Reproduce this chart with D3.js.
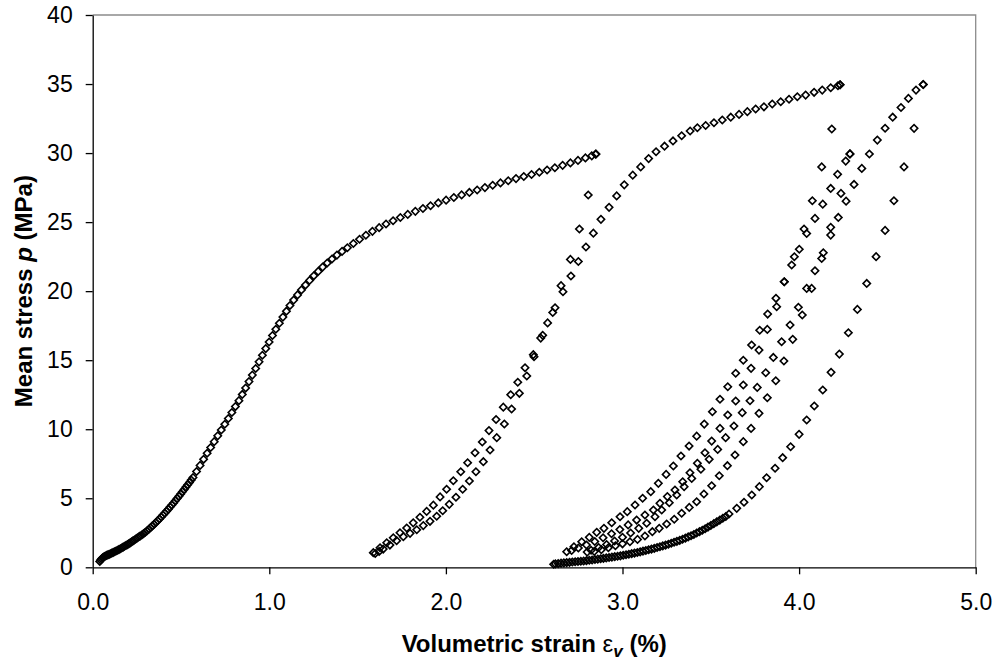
<!DOCTYPE html>
<html>
<head>
<meta charset="utf-8">
<script src="https://cdn.jsdelivr.net/npm/d3@7/dist/d3.min.js"></script>
<style>
  html, body { margin: 0; padding: 0; background: #fff; }
  svg { display: block; }
  text { font-family: Arial, "Liberation Sans", Helvetica, sans-serif; }
</style>
</head>
<body>
<svg id="chart" width="997" height="663"></svg>
<script>
// Axis ticks
const xTicks = [0, 1, 2, 3, 4, 5];
const yTicks = [0, 5, 10, 15, 20, 25, 30, 35, 40];

// Each branch of the test: [volumetric strain (%), mean stress p (MPa)]
const loading1 = [
  [0.040,0.42],[0.045,0.52],[0.050,0.60],[0.055,0.67],[0.060,0.73],[0.066,0.78],[0.072,0.82],[0.079,0.86],
  [0.086,0.90],[0.093,0.94],[0.100,0.98],[0.108,1.03],[0.116,1.08],[0.124,1.13],[0.132,1.18],[0.140,1.23],
  [0.148,1.28],[0.156,1.34],[0.164,1.40],[0.172,1.46],[0.180,1.52],[0.188,1.58],[0.196,1.64],[0.204,1.70],
  [0.212,1.77],[0.220,1.84],[0.228,1.91],[0.236,1.98],[0.244,2.05],[0.252,2.12],[0.260,2.19],[0.268,2.26],
  [0.278,2.34],[0.288,2.44],[0.298,2.54],[0.308,2.65],[0.318,2.76],[0.328,2.88],[0.338,3.00],[0.348,3.12],
  [0.358,3.24],[0.368,3.37],[0.378,3.50],[0.388,3.64],[0.398,3.78],[0.408,3.92],[0.418,4.06],[0.428,4.21],
  [0.438,4.36],[0.448,4.51],[0.458,4.66],[0.468,4.82],[0.478,4.98],[0.488,5.14],[0.498,5.30],[0.508,5.47],
  [0.518,5.64],[0.528,5.81],[0.538,5.98],[0.548,6.15],[0.558,6.32],[0.568,6.50],
  [0.588,6.94],[0.608,7.38],[0.628,7.82],[0.648,8.26],[0.668,8.68],[0.688,9.10],[0.708,9.52],[0.728,9.94],
  [0.748,10.36],[0.768,10.78],[0.788,11.21],[0.808,11.64],[0.828,12.07],[0.847,12.52],[0.866,12.98],[0.885,13.45],
  [0.904,13.92],[0.923,14.40],[0.942,14.88],[0.961,15.36],[0.980,15.84],[0.999,16.32],[1.018,16.79],[1.037,17.24],
  [1.057,17.68],[1.077,18.12],[1.097,18.55],[1.117,18.96],[1.138,19.35],[1.160,19.73],[1.182,20.09],[1.205,20.44],
  [1.228,20.78],[1.252,21.11],[1.277,21.43],[1.302,21.74],[1.328,22.04],[1.355,22.33],[1.383,22.61],[1.412,22.88],
  [1.442,23.14],[1.476,23.45],[1.511,23.76],[1.547,24.05],[1.584,24.33],[1.622,24.60],[1.661,24.86],[1.701,25.10],
  [1.742,25.33],[1.784,25.56],[1.827,25.78],[1.870,25.99],[1.913,26.19],[1.957,26.39],[2.001,26.59],[2.045,26.78],
  [2.089,26.97],[2.133,27.15],[2.177,27.33],[2.221,27.50],[2.265,27.67],[2.309,27.84],[2.353,28.00],[2.397,28.15],
  [2.441,28.30],[2.485,28.45],[2.529,28.61],[2.573,28.77],[2.617,28.94],[2.661,29.11],[2.705,29.29],[2.748,29.47],
  [2.790,29.65],[2.826,29.80],[2.848,29.92]
];

const unloading1 = [
  [2.850,29.93],[2.806,26.96],[2.756,24.50],[2.705,22.30],[2.652,20.40],[2.605,18.45],[2.537,16.60],[2.495,15.40],
  [2.448,14.45],[2.407,13.40],[2.367,12.50],[2.325,11.60],[2.284,10.70],[2.244,9.90],[2.206,9.07],[2.165,8.30],
  [2.123,7.57],[2.084,6.92],[2.042,6.27],[2.004,5.65],[1.967,5.10],[1.929,4.50],[1.891,4.05],[1.853,3.62],
  [1.815,3.22],[1.778,2.85],[1.740,2.50],[1.702,2.14],[1.665,1.78],[1.627,1.42],[1.589,1.06]
];

const reloading1 = [
  [1.600,1.00],[1.622,1.15],[1.645,1.32],[1.683,1.61],[1.721,1.93],[1.759,2.22],[1.797,2.46],[1.835,2.72],
  [1.872,3.02],[1.910,3.33],[1.948,3.70],[1.982,4.10],[2.019,4.56],[2.057,5.07],[2.095,5.65],[2.133,6.25],
  [2.170,6.92],[2.212,7.65],[2.250,8.50],[2.288,9.39],[2.331,10.38],[2.372,11.46],[2.416,12.60],[2.458,13.85],
  [2.499,15.25],[2.548,16.80],[2.576,17.70],[2.618,18.80],[2.663,19.96],[2.708,21.10],[2.750,22.15],[2.793,23.20],
  [2.835,24.20],[2.878,25.20],[2.924,26.07],[2.967,26.90],[3.010,27.70],[3.058,28.40],[3.103,29.00],[3.148,29.60],
  [3.190,30.10],[3.238,30.50],[3.286,30.88],[3.335,31.25],[3.383,31.60],[3.424,31.83],[3.471,32.00],[3.518,32.20],
  [3.565,32.40],[3.613,32.60],[3.660,32.80],[3.707,33.00],[3.754,33.19],[3.801,33.35],[3.848,33.55],[3.896,33.72],
  [3.943,33.90],[3.990,34.08],[4.037,34.20],[4.085,34.40],[4.131,34.56],[4.179,34.73],[4.220,34.88],[4.232,34.95]
];

const unloading2 = [
  [4.232,34.95],[4.185,31.74],[4.128,29.00],[4.075,26.55],[4.028,24.50],[3.973,22.49],[3.916,20.68],[3.873,18.87],
  [3.820,17.23],[3.773,15.73],[3.728,14.41],[3.684,13.20],[3.641,12.04],[3.596,11.03],[3.552,10.06],[3.505,9.14],
  [3.467,8.30],[3.424,7.53],[3.382,6.85],[3.341,6.20],[3.297,5.60],[3.254,5.12],[3.212,4.63],[3.175,4.15],
  [3.127,3.79],[3.080,3.42],[3.032,3.07],[2.985,2.74],[2.938,2.43],[2.890,2.14],[2.843,1.87],[2.796,1.62],
  [2.750,1.40],[2.712,1.22]
];

const reloading2 = [
  [2.684,1.13],[2.725,1.49],[2.769,1.85],[2.812,2.17],[2.854,2.53],[2.895,2.82],[2.939,3.23],[2.986,3.66],
  [3.027,4.03],[3.071,4.51],[3.114,5.00],[3.160,5.48],[3.203,6.08],[3.247,6.73],[3.288,7.34],[3.331,8.06],
  [3.377,8.78],[3.420,9.50],[3.463,10.37],[3.509,11.27],[3.552,12.17],[3.596,13.08],[3.641,14.05],[3.684,15.00],
  [3.731,16.10],[3.777,17.17],[3.822,18.34],[3.869,19.48],[3.916,20.68],[3.958,21.89],[4.001,23.03],[4.043,24.18],
  [4.090,25.27],[4.134,26.30],[4.179,27.44],[4.218,28.46],[4.264,29.42],[4.288,29.94]
];

const unloading3 = [
  [4.288,29.94],[4.237,27.08],[4.179,24.62],[4.137,22.78],[4.090,21.48],[4.043,20.20],[3.996,18.83],[3.949,17.55],
  [3.901,16.34],[3.854,15.20],[3.811,14.09],[3.763,13.03],[3.722,12.06],[3.678,11.20],[3.631,10.23],[3.584,9.39],
  [3.539,8.54],[3.491,7.82],[3.444,7.10],[3.392,6.44],[3.349,5.84],[3.307,5.24],[3.265,4.68],[3.222,4.15],
  [3.184,3.66],[3.137,3.19],[3.092,2.82],[3.046,2.48],[3.000,2.17],[2.955,1.90],[2.910,1.65],[2.865,1.43],
  [2.822,1.23],[2.800,1.10]
];

const reloading3 = [
  [2.840,1.15],[2.880,1.28],[2.920,1.42],[2.960,1.56],[3.000,1.70],[3.042,1.85],[3.085,2.02],[3.127,2.27],
  [3.169,2.58],[3.208,2.82],[3.250,3.14],[3.293,3.48],[3.335,3.91],[3.378,4.34],[3.420,4.75],[3.461,5.31],
  [3.505,5.91],[3.548,6.63],[3.594,7.36],[3.637,8.13],[3.684,9.10],[3.728,10.06],[3.773,11.15],[3.820,12.28],
  [3.868,13.51],[3.914,14.94],[3.964,16.51],[4.018,18.27],[4.071,20.20],[4.128,22.37],[4.179,24.06],[4.222,25.34],
  [4.266,26.52],[4.311,27.73],[4.355,28.89],[4.398,29.93],[4.443,30.94],[4.487,31.80],[4.530,32.60],[4.577,33.30],
  [4.619,33.96],[4.662,34.56],[4.703,34.97]
];

const unloading4 = [
  [4.703,34.97],[4.651,31.79],[4.594,29.00],[4.537,26.55],[4.487,24.40],[4.436,22.50],[4.383,20.56],[4.330,18.68],
  [4.279,16.99],[4.228,15.44],[4.181,14.12],[4.134,12.84],[4.086,11.68],[4.043,10.67],[4.000,9.63],[3.952,8.73],
  [3.907,7.94],[3.864,7.17],[3.816,6.49],[3.775,5.84],[3.732,5.24],[3.688,4.71],[3.647,4.27],[3.603,3.86],
  [3.585,3.68],[3.568,3.55],[3.551,3.42],[3.534,3.29],[3.517,3.16],[3.500,3.03],[3.484,2.91],[3.468,2.79],
  [3.452,2.68],[3.436,2.58],[3.420,2.48],[3.404,2.38],[3.388,2.29],[3.372,2.20],[3.356,2.11],[3.340,2.03],
  [3.324,1.95],[3.308,1.88],[3.292,1.81],[3.276,1.74],[3.260,1.67],[3.244,1.61],[3.228,1.55],[3.212,1.49],
  [3.196,1.43],[3.180,1.37],[3.164,1.32],[3.148,1.27],[3.132,1.22],[3.116,1.17],[3.100,1.12],[3.084,1.07],
  [3.068,1.03],[3.052,0.99],[3.036,0.95],[3.020,0.91],[3.004,0.87],[2.988,0.83],[2.972,0.80],[2.956,0.77],
  [2.940,0.74],[2.924,0.71],[2.908,0.68],[2.892,0.65],[2.876,0.62],[2.860,0.59],[2.844,0.56],[2.828,0.53],
  [2.812,0.51],[2.796,0.48],[2.780,0.46],[2.764,0.44],[2.748,0.42],[2.732,0.40],[2.716,0.38],[2.700,0.36],
  [2.684,0.34],[2.668,0.32],[2.652,0.30],[2.636,0.27],[2.620,0.25],[2.610,0.22]
];

const branches = [loading1, unloading1, reloading1, unloading2, reloading2, unloading3, reloading3, unloading4];

const svg = d3.select("#chart");
const plot = { left: 92.7, right: 975.7, top: 15, bottom: 567.3 };

const x = d3.scaleLinear().domain([0, 5]).range([plot.left, plot.right]);
const y = d3.scaleLinear().domain([0, 40]).range([plot.bottom, plot.top]);

svg.append("rect").attr("width", 997).attr("height", 663).attr("fill", "#fff");

// Frame: grey top/right edges
svg.append("path")
  .attr("d", `M${x(0)},${y(40)}H${x(5)}V${y(0)}`)
  .attr("fill", "none").attr("stroke", "#8c8c8c").attr("stroke-width", 1.3);

// Y axis
const yAxis = svg.append("g")
  .attr("transform", `translate(${x(0)},0)`)
  .call(d3.axisLeft(y).tickValues(yTicks).tickFormat(d3.format("d"))
    .tickSize(7).tickSizeOuter(0).tickPadding(13));
// X axis
const xAxis = svg.append("g")
  .attr("transform", `translate(0,${y(0)})`)
  .call(d3.axisBottom(x).tickValues(xTicks).tickFormat(d3.format(".1f"))
    .tickSize(7).tickSizeOuter(0).tickPadding(19));

[yAxis, xAxis].forEach(g => {
  g.attr("font-family", null).attr("font-size", null);
  g.select(".domain").attr("stroke", "#000").attr("stroke-width", 1.3);
  g.selectAll(".tick line").attr("stroke", "#000").attr("stroke-width", 1.3);
  g.selectAll(".tick text")
    .attr("fill", "#000")
    .style("font-size", "23px")
    .style("font-family", "Arial, 'Liberation Sans', sans-serif");
});

// Markers: open diamonds
const diamond = d3.symbol().type(d3.symbolSquare).size(27);
const marks = svg.append("g")
  .attr("fill", "none").attr("stroke", "#000").attr("stroke-width", 1.6);

branches.forEach(series => {
  marks.append("g").selectAll("path")
    .data(series)
    .join("path")
    .attr("d", diamond)
    .attr("transform", d => `translate(${x(d[0])},${y(d[1])}) rotate(45)`);
});

// Axis titles
const xTitle = svg.append("text")
  .attr("x", (plot.left + plot.right) / 2)
  .attr("y", 652)
  .attr("text-anchor", "middle")
  .style("font-size", "24px")
  .style("font-weight", "bold");
xTitle.append("tspan").text("Volumetric strain ");
xTitle.append("tspan").style("font-weight", "normal").text("ε");
xTitle.append("tspan").attr("dy", 5).style("font-style", "italic").style("font-size", "17px").text("v");
xTitle.append("tspan").attr("dy", -5).text(" (%)");

const yTitle = svg.append("text")
  .attr("transform", `translate(32,${(plot.top + plot.bottom) / 2}) rotate(-90)`)
  .attr("text-anchor", "middle")
  .style("font-size", "24px")
  .style("font-weight", "bold");
yTitle.append("tspan").text("Mean stress ");
yTitle.append("tspan").style("font-style", "italic").text("p");
yTitle.append("tspan").text(" (MPa)");
</script>
</body>
</html>
